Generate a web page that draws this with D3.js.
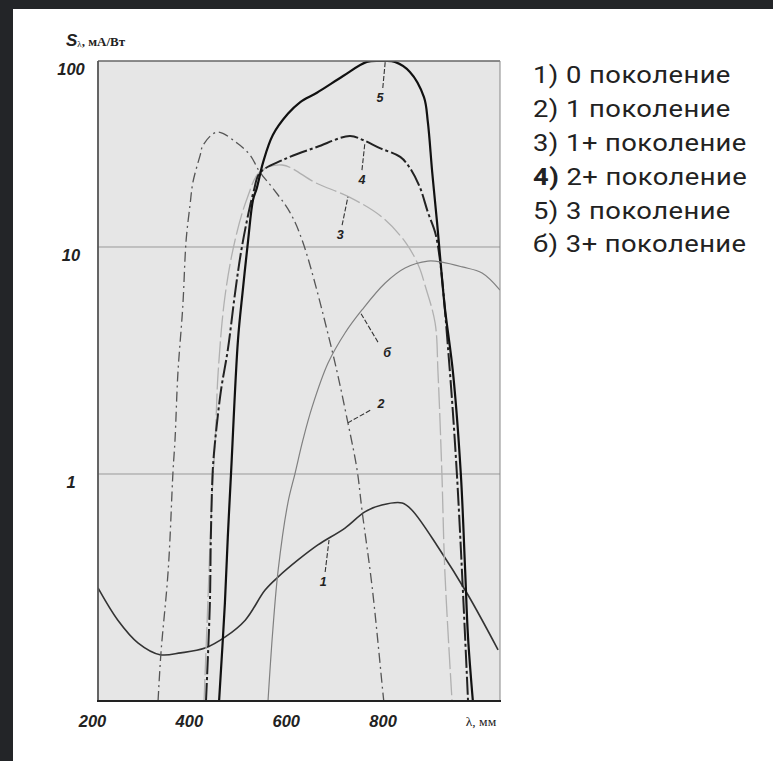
<!DOCTYPE html>
<html>
<head>
<meta charset="utf-8">
<script src="https://cdn.jsdelivr.net/npm/d3@7"></script>
<style>
  body { margin: 0; background: #232528; }
  svg { display: block; }
</style>
</head>
<body>
<div id="container"></div>
<script>
// wavelength (nm) / sensitivity (mA/W)
var wl1 = [200, 241, 283, 328, 371, 421, 462, 504, 545, 572, 613, 654, 710, 751, 786, 828, 848, 902, 964, 1026]
var s1 = [0.315, 0.227, 0.18, 0.16, 0.163, 0.171, 0.191, 0.227, 0.308, 0.352, 0.418, 0.487, 0.578, 0.681, 0.73, 0.745, 0.694, 0.477, 0.293, 0.168]

var wl2 = [324, 330, 345, 355, 359, 365, 375, 382, 390, 396, 411, 417, 446, 487, 514, 534, 561, 596, 623, 683, 716, 735, 745, 766, 788, 790]
var s2 = [0.1, 0.163, 0.378, 1.04, 1.41, 2.79, 5.44, 10.9, 16.8, 22.3, 31.2, 35.3, 41.5, 36.2, 31.2, 25.3, 20.7, 15.4, 10.6, 3.52, 1.68, 1.04, 0.694, 0.318, 0.11, 0.1]

var wl3 = [419, 427, 435, 442, 448, 462, 483, 508, 534, 580, 650, 718, 786, 836, 863, 875, 896, 902, 910, 916, 931]
var s3 = [0.1, 0.279, 0.768, 1.41, 2.79, 6.02, 10.9, 18.3, 25.3, 27.6, 22.1, 18.6, 14.5, 10.5, 8.17, 6.8, 4.63, 2.79, 1.01, 0.378, 0.1]

var wl4 = [423, 431, 433, 437, 442, 454, 468, 483, 495, 510, 522, 534, 582, 652, 720, 747, 782, 824, 844, 865, 881, 896, 906, 923, 941, 964]
var s4 = [0.1, 0.27, 0.527, 1.04, 1.41, 2.34, 3.52, 6.27, 9.41, 14.9, 20.2, 25.0, 29.4, 34.5, 39.5, 37.6, 34.0, 30.5, 26.6, 20.8, 15.4, 12.0, 8.77, 3.52, 1.0, 0.1]

var wl5 = [450, 462, 468, 475, 489, 499, 510, 520, 528, 541, 561, 592, 617, 652, 706, 755, 788, 813, 844, 873, 881, 890, 900, 906, 916, 933, 949, 958, 964, 974]
var s5 = [0.1, 0.27, 0.527, 1.04, 3.89, 6.46, 10.9, 17.9, 20.8, 28.6, 40.0, 52.0, 60.0, 67.5, 83.0, 98.9, 100, 98.9, 87.4, 64.0, 47.0, 25.3, 13.6, 9.22, 5.44, 2.79, 1.01, 0.378, 0.191, 0.1]

var wl6 = [551, 561, 572, 592, 607, 623, 642, 675, 710, 745, 793, 834, 881, 910, 952, 993, 1030]
var s6 = [0.1, 0.206, 0.378, 0.745, 1.01, 1.41, 1.97, 3.08, 4.18, 5.28, 6.94, 8.08, 8.67, 8.58, 8.17, 7.68, 6.46]

var legendNums = ['1)', '2)', '3)', '4)', '5)', 'б)']
var legendLabels = [' 0 поколение', ' 1 поколение', ' 1+ поколение', ' 2+ поколение', ' 3 поколение', ' 3+ поколение']
var curveNames = ['1', '2', '3', '4', '5', 'б']
var xTicks = [200, 400, 600, 800]
var yTicks = [1, 10, 100]

// curve number annotations: [text λ, text S, leader from λ, S, leader to λ, S]
var tagPos = [
  [665, 0.334, 669, 0.37, 677, 0.512],
  [784, 2.05, 762, 1.91, 716, 1.68],
  [700, 11.6, 704, 13.1, 716, 18.6],
  [745, 22.9, 745, 25.9, 751, 36.2],
  [782, 63.2, 788, 71.6, 793, 98.9],
  [797, 3.41, 778, 3.81, 741, 5.17]
]

var styles = [
  { stroke: '#333', width: 1.6, dash: null },
  { stroke: '#555', width: 1.3, dash: '10,4,2,4' },
  { stroke: '#b0b0b0', width: 1.3, dash: '22,4' },
  { stroke: '#222', width: 2, dash: '18,3,3,3' },
  { stroke: '#111', width: 2.2, dash: null },
  { stroke: '#808080', width: 1.2, dash: null }
]

var W = 773, H = 761
var svg = d3.select('#container').append('svg').attr('width', W).attr('height', H)

svg.append('rect').attr('x', 13).attr('y', 9).attr('width', W - 13).attr('height', H - 9).attr('fill', '#fff')

var x = d3.scaleLinear().domain([200, 1030]).range([98, 500])
var y = d3.scaleLog().domain([0.1, 1, 10, 100]).range([701, 474, 247, 61])

svg.append('rect')
  .attr('x', x.range()[0]).attr('y', 61)
  .attr('width', x.range()[1] - x.range()[0]).attr('height', 701 - 61)
  .attr('fill', '#e6e6e6')

// grid lines at 1 and 10
svg.selectAll('line.grid')
  .data([1, 10])
  .enter().append('line')
  .attr('class', 'grid')
  .attr('x1', x.range()[0]).attr('x2', x.range()[1])
  .attr('y1', y).attr('y2', y)
  .attr('stroke', '#999').attr('stroke-width', 1)

svg.append('defs').append('clipPath').attr('id', 'plot')
  .append('rect').attr('x', 98).attr('y', 61).attr('width', 402).attr('height', 640)

var series = [[wl1, s1], [wl2, s2], [wl3, s3], [wl4, s4], [wl5, s5], [wl6, s6]]

var line = d3.line()
  .x(function (d) { return x(d[0]) })
  .y(function (d) { return y(d[1]) })
  .curve(d3.curveCatmullRom.alpha(0.5))

var g = svg.append('g').attr('clip-path', 'url(#plot)')
series.forEach(function (s, i) {
  var pts = d3.zip(s[0], s[1])
  g.append('path')
    .datum(pts)
    .attr('d', line)
    .attr('fill', 'none')
    .attr('stroke', styles[i].stroke)
    .attr('stroke-width', styles[i].width)
    .attr('stroke-dasharray', styles[i].dash)
    .attr('stroke-linejoin', 'round')
})

// leaders + curve numbers
tagPos.forEach(function (t, i) {
  svg.append('line')
    .attr('x1', x(t[2])).attr('y1', y(t[3]))
    .attr('x2', x(t[4])).attr('y2', y(t[5]))
    .attr('stroke', '#333').attr('stroke-width', 1.1)
    .attr('stroke-dasharray', '5,2')
  svg.append('text')
    .attr('x', x(t[0])).attr('y', y(t[1]))
    .attr('dy', '0.35em')
    .attr('text-anchor', 'middle')
    .attr('font-family', 'Liberation Sans, Arial, sans-serif')
    .attr('font-weight', 'bold').attr('font-style', 'italic')
    .attr('font-size', 12.5).attr('fill', '#222')
    .text(curveNames[i])
})

// frame
svg.append('line').attr('x1', 98).attr('x2', 500).attr('y1', 61).attr('y2', 61).attr('stroke', '#666').attr('stroke-width', 1.5)
svg.append('line').attr('x1', 500).attr('x2', 500).attr('y1', 61).attr('y2', 701).attr('stroke', '#888').attr('stroke-width', 1)
svg.append('line').attr('x1', 98).attr('x2', 98).attr('y1', 61).attr('y2', 701).attr('stroke', '#555').attr('stroke-width', 1.8)
svg.append('line').attr('x1', 97).attr('x2', 501).attr('y1', 701).attr('y2', 701).attr('stroke', '#222').attr('stroke-width', 1.8)

var tickFont = function (sel) {
  sel.attr('font-family', 'Liberation Sans, Arial, sans-serif')
    .attr('font-weight', 'bold').attr('font-style', 'italic')
    .attr('font-size', 16.5).attr('fill', '#222')
}

// axes
var xAxis = svg.append('g').attr('transform', 'translate(-6,701)')
  .call(d3.axisBottom(x).tickValues(xTicks).tickSize(0).tickPadding(14).tickFormat(d3.format('d')))
xAxis.select('.domain').remove()
xAxis.selectAll('text').call(tickFont)

var yAxis = svg.append('g').attr('transform', 'translate(98,8)')
  .call(d3.axisLeft(y).tickValues(yTicks).tickSize(0).tickFormat(d3.format('d')))
yAxis.select('.domain').remove()
yAxis.selectAll('text').attr('x', -27).attr('text-anchor', 'middle').call(tickFont)

// axis titles
var yt = svg.append('text').attr('x', 66).attr('y', 46).attr('fill', '#222')
yt.append('tspan').attr('font-family', 'Liberation Sans, Arial, sans-serif')
  .attr('font-weight', 'bold').attr('font-style', 'italic').attr('font-size', 17).text('S')
yt.append('tspan').attr('font-family', 'Liberation Serif, serif').attr('font-size', 9).attr('dy', 1).text('λ')
yt.append('tspan').attr('font-family', 'Liberation Serif, serif').attr('font-weight', 'bold')
  .attr('font-size', 13).attr('dy', -1).text(', мА/Вт')

svg.append('text').attr('x', 481).attr('y', 726).attr('text-anchor', 'middle')
  .attr('font-family', 'Liberation Serif, serif').attr('font-size', 13.5).attr('fill', '#222')
  .text('λ, мм')

// legend
var leg = svg.append('g').attr('transform', 'translate(533,0) scale(1.14,1)')
var rows = leg.selectAll('text.legend')
  .data(legendLabels)
  .enter().append('text')
  .attr('class', 'legend')
  .attr('x', 0)
  .attr('y', function (d, i) { return 83.5 + i * 33.8 })
  .attr('font-family', 'Roboto, sans-serif')
  .attr('font-size', 24)
  .attr('letter-spacing', 0.4)
  .attr('fill', '#222')
rows.append('tspan')
  .attr('font-weight', function (d, i) { return i === 3 ? 700 : 400 })
  .text(function (d, i) { return legendNums[i] })
rows.append('tspan').text(function (d) { return d })
</script>
</body>
</html>
